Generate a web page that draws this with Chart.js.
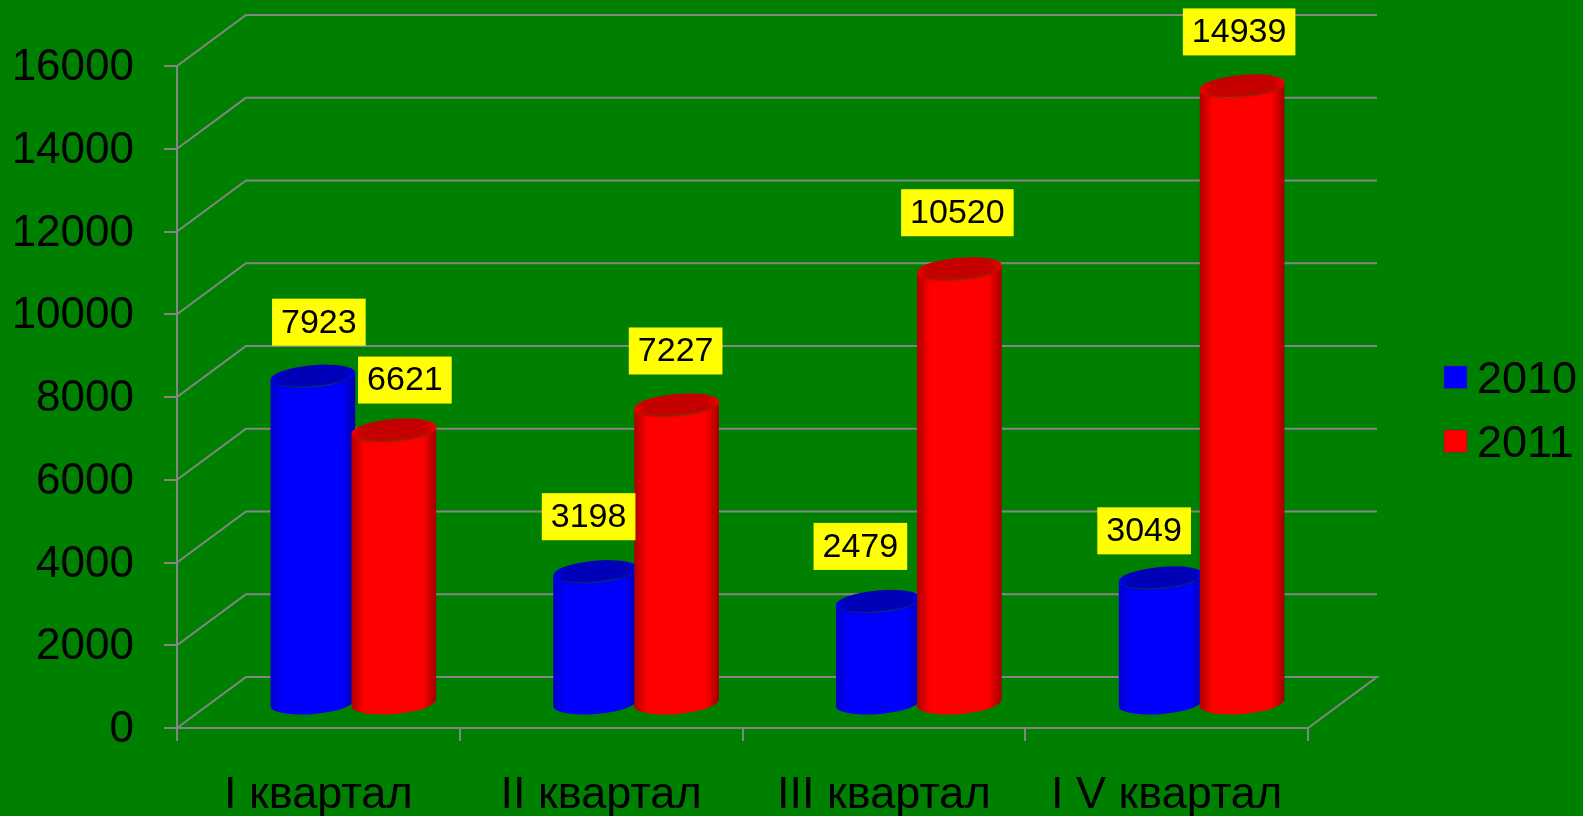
<!DOCTYPE html>
<html>
<head>
<meta charset="utf-8">
<style>html,body{margin:0;padding:0;background:#008000;overflow:hidden}canvas{display:block}</style>
<script src="https://cdn.jsdelivr.net/npm/chart.js@4"></script>
</head>
<body>
<canvas id="c" width="1583" height="816"></canvas>
<script>
const categories = ['I квартал', 'II квартал', 'III квартал', 'I V квартал'];
const seriesNames = ['2010', '2011'];
const values2010 = [7923, 3198, 2479, 3049];
const values2011 = [6621, 7227, 10520, 14939];
const colors = ['#0000ff', '#ff0000'];
const FONT = '"Liberation Sans", Arial, sans-serif';
const GRID = '#858585';
const DEPTH = {x: 69, y: -51};
const BAR_SHIFT = {x: 35, y: -24};
// hand placement of the value labels, relative to the top of each bar
const labelShift = [
  [[6, -54], [-7, -55], [-18, -55], [-17, -47]],
  [[11, -50], [-1, -54], [-2, -56], [-3, -54]]
];
const shades = {
  '#0000ff': {edgeL: '#0000cc', edgeR: '#0000a8', cap: '#0000b8', capRim: '#0000e8'},
  '#ff0000': {edgeL: '#b00000', edgeR: '#a00000', cap: '#c40000', capRim: '#f00000'}
};

function drawCylinder(ctx, bar, color) {
  const s = shades[color];
  const cx = bar.x, rx = bar.width / 2, ry = 11, rot = -5 * Math.PI / 180;
  const top = bar.y, base = bar.base;
  const dx = rx * Math.cos(rot), dy = rx * Math.sin(rot);
  const g = ctx.createLinearGradient(cx - rx, 0, cx + rx, 0);
  g.addColorStop(0, s.edgeL);
  g.addColorStop(0.16, color);
  g.addColorStop(0.84, color);
  g.addColorStop(1, s.edgeR);
  ctx.fillStyle = g;
  ctx.beginPath();
  ctx.moveTo(cx - dx, top - dy);
  ctx.lineTo(cx - dx, base - dy);
  ctx.ellipse(cx, base, rx, ry, rot, Math.PI, 0, true);
  ctx.lineTo(cx + dx, top + dy);
  ctx.ellipse(cx, top, rx, ry, rot, 0, Math.PI, false);
  ctx.closePath();
  ctx.fill();
  const cg = ctx.createRadialGradient(cx, top, 4, cx, top, rx);
  cg.addColorStop(0, s.cap);
  cg.addColorStop(0.7, s.cap);
  cg.addColorStop(1, s.capRim);
  ctx.save();
  ctx.beginPath();
  ctx.ellipse(cx, top, rx, ry, rot, Math.PI, 0, false);
  ctx.lineTo(cx + dx, top + dy + ry + 4);
  ctx.lineTo(cx - dx, top - dy + ry + 4);
  ctx.closePath();
  ctx.clip();
  ctx.filter = 'blur(1.2px)';
  ctx.fillStyle = cg;
  ctx.beginPath();
  ctx.ellipse(cx, top, rx + 2, ry, rot, 0, Math.PI, false);
  ctx.ellipse(cx, top - 6, rx + 2, ry + 4, rot, Math.PI, 0, false);
  ctx.closePath();
  ctx.fill();
  ctx.restore();
}

const scene3d = {
  id: 'scene3d',
  beforeDraw(chart) {
    // the numbers sit a little below their tick marks in the reference
    chart.scales.y.getLabelItems().forEach(item => {
      if (!item.shifted) { item.options.translation[1] += 2; item.shifted = true; }
    });
  },
  beforeDatasetsDraw(chart) {
    const {ctx, chartArea: a, scales: {y}} = chart;
    ctx.save();
    ctx.strokeStyle = GRID;
    ctx.lineWidth = 2;
    y.ticks.forEach(t => {
      const py = y.getPixelForValue(t.value);
      ctx.beginPath();
      ctx.moveTo(a.left, py);
      ctx.lineTo(a.left + DEPTH.x, py + DEPTH.y);
      ctx.lineTo(a.right + DEPTH.x, py + DEPTH.y);
      if (t.value === 0) ctx.lineTo(a.right, py);
      ctx.stroke();
    });
    ctx.restore();
    // cylinders, left series first so the right one overlaps it
    ctx.save();
    ctx.translate(BAR_SHIFT.x, BAR_SHIFT.y);
    chart.data.datasets.forEach((ds, i) => {
      chart.getDatasetMeta(i).data.forEach(bar => drawCylinder(ctx, bar, ds.backgroundColor));
    });
    ctx.restore();
    // value labels
    ctx.save();
    ctx.font = '34px ' + FONT;
    ctx.textAlign = 'center';
    ctx.textBaseline = 'middle';
    chart.data.datasets.forEach((ds, i) => {
      chart.getDatasetMeta(i).data.forEach((bar, j) => {
        const [sx, sy] = labelShift[i][j];
        const lx = bar.x + BAR_SHIFT.x + sx, ly = bar.y + BAR_SHIFT.y + sy;
        const text = String(ds.data[j]);
        const w = ctx.measureText(text).width + 18;
        ctx.fillStyle = '#ffff00';
        ctx.fillRect(lx - w / 2, ly - 23.5, w, 47);
        ctx.fillStyle = '#000000';
        ctx.fillText(text, lx, ly + 1);
      });
    });
    ctx.restore();
    return false;
  },
  afterDraw(chart) {
    const {ctx} = chart;
    ctx.save();
    ctx.font = '45px ' + FONT;
    ctx.textAlign = 'left';
    ctx.textBaseline = 'alphabetic';
    chart.data.datasets.forEach((ds, i) => {
      const top = 366 + i * 64;
      ctx.fillStyle = ds.backgroundColor;
      ctx.fillRect(1444, top, 23, 22.5);
      ctx.strokeStyle = 'rgba(60,60,60,0.6)';
      ctx.lineWidth = 1;
      ctx.strokeRect(1444, top, 23, 22.5);
      ctx.fillStyle = '#000000';
      ctx.fillText(ds.label, 1477, top + 27);
    });
    ctx.restore();
  }
};

new Chart(document.getElementById('c'), {
  type: 'bar',
  plugins: [scene3d],
  data: {
    labels: categories,
    datasets: [
      {label: seriesNames[0], data: values2010, backgroundColor: colors[0]},
      {label: seriesNames[1], data: values2011, backgroundColor: colors[1]}
    ]
  },
  options: {
    responsive: false,
    animation: false,
    categoryPercentage: 0.573,
    barPercentage: 1.049,
    layout: {padding: {top: 66, right: 275, left: 0, bottom: 0}},
    plugins: {legend: {display: false}, tooltip: {enabled: false}, title: {display: false}},
    scales: {
      x: {
        afterFit: s => { s.height = 88; },
        grid: {drawOnChartArea: false, drawTicks: true, tickLength: 13, color: GRID, lineWidth: 2},
        border: {color: GRID, width: 2},
        ticks: {color: '#000000', font: {size: 45, family: FONT}, padding: 28, maxRotation: 0, autoSkip: false}
      },
      y: {
        min: 0, max: 16000,
        afterFit: s => { s.width = 177; },
        grid: {drawOnChartArea: false, drawTicks: true, tickLength: 13, color: GRID, lineWidth: 2},
        border: {color: GRID, width: 2},
        ticks: {color: '#000000', stepSize: 2000, font: {size: 44, family: FONT}, padding: 30, callback: v => String(v)}
      }
    }
  }
});
</script>
</body>
</html>
